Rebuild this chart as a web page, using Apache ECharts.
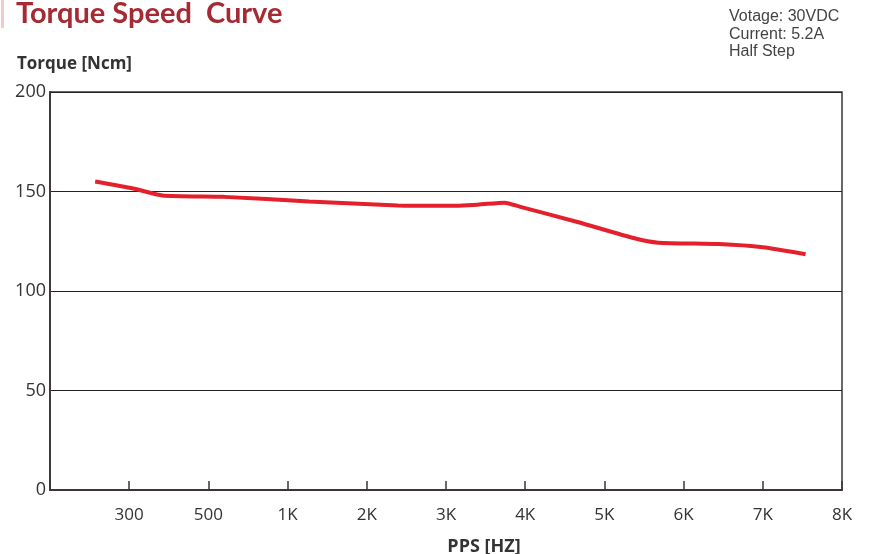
<!DOCTYPE html>
<html>
<head>
<meta charset="utf-8">
<script src="https://cdn.jsdelivr.net/npm/echarts@6/dist/echarts.min.js"></script>
<style>html,body{margin:0;padding:0;background:#fff}#c{width:870px;height:554px}</style>
</head>
<body>
<div id="c"></div>
<script>
// Tick labels at positions 0..10 along the frequency axis
var xTickLabels = ['', '300', '500', '1K', '2K', '3K', '4K', '5K', '6K', '7K', '8K'];
// Curve sample positions (in tick-index units) and torque values [Ncm]
var curvePos = [0.57, 1.05, 1.42, 2.2, 3.27, 4.39, 4.99, 5.40, 5.74, 5.94, 6.66, 7.38, 7.68, 8.45, 9.00, 9.54];
var curveTorque = [155, 151.5, 148, 147.3, 145, 143, 142.8, 143.4, 144.4, 142.3, 134.7, 126.5, 124.3, 123.6, 122, 118.5];
var yTicks = [0, 50, 100, 150, 200];
var infoLines = ['Votage: 30VDC', 'Current: 5.2A', 'Half Step'];

var chart = echarts.init(document.getElementById('c'));
var data = curvePos.map(function (p, i) { return [p, curveTorque[i]]; });
chart.setOption({
  animation: false,
  backgroundColor: '#fff',
  graphic: [
    { type: 'rect', shape: { x: 1, y: 0, width: 3, height: 28 }, style: { fill: '#f2c9cd' } },
    { type: 'text', left: 729, top: 8, style: { text: infoLines.join('\n'), font: '16px "Liberation Sans", Arial, sans-serif', fill: '#444', lineHeight: 17.5 } }
  ],
  title: [
    { text: 'Torque Speed  Curve', left: 11, top: -6, textStyle: { color: '#a52a33', fontSize: 29, fontWeight: 'bold', fontFamily: 'Lato' } },
    { text: 'Torque [Ncm]', left: 12, top: 51, textStyle: { color: '#333', fontSize: 17, fontWeight: 'bold', fontFamily: 'Open Sans' } },
    { text: 'PPS [HZ]', left: 479, textAlign: 'center', top: 533, textStyle: { color: '#333', fontSize: 18, fontWeight: 'bold', fontFamily: 'Open Sans' } }
  ],
  grid: { left: 50, right: 28, top: 92, bottom: 64, show: true, borderColor: '#3d3535', borderWidth: 1.5 },
  xAxis: {
    type: 'value', min: 0, max: 10, interval: 1,
    axisLine: { show: true, lineStyle: { color: '#3d3535', width: 1.8 } },
    axisTick: { show: true, inside: true, length: 9, lineStyle: { color: '#3d3535', width: 1.5 } },
    axisLabel: { margin: 17, color: '#333', fontSize: 17, fontFamily: 'Open Sans',
      formatter: function (v) { return xTickLabels[Math.round(v)] || ''; } },
    splitLine: { show: false }
  },
  yAxis: {
    type: 'value', min: yTicks[0], max: yTicks[yTicks.length - 1], interval: 50,
    axisLine: { show: true, lineStyle: { color: '#3d3535', width: 1.8 } },
    axisTick: { show: false },
    axisLabel: { margin: 4, color: '#333', fontSize: 18, fontFamily: 'Open Sans' },
    splitLine: { show: true, lineStyle: { color: '#222', width: 1.2 } }
  },
  series: [{
    type: 'line', data: data, smooth: 0.2, symbol: 'none',
    lineStyle: { color: '#e3202b', width: 4 }
  }]
});
</script>
</body>
</html>
